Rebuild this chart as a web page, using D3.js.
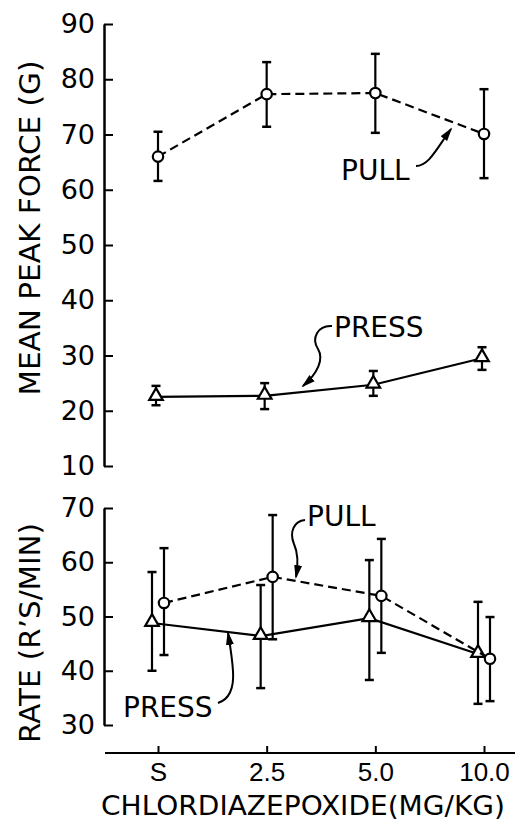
<!DOCTYPE html>
<html lang="en">
<head>
<meta charset="UTF-8">
<title>Chlordiazepoxide force and rate</title>
<script src="https://d3js.org/d3.v7.min.js"></script>
<style>
    body { margin: 0; background: #fff; }
    svg { display: block; }
    .tick text { font-family: "DejaVu Sans", sans-serif; fill: #000; }
    .lab { font-family: "DejaVu Sans", sans-serif; fill: #000; }
</style>
</head>
<body>
<script>
    // doses on the x axis
    const doses = ["S", "2.5", "5.0", "10.0"];

    // top panel: mean peak force (g)
    const forcePull    = [66, 77.3, 77.5, 70.1];
    const forcePullLo  = [61.6, 71.4, 70.3, 62.1];
    const forcePullHi  = [70.5, 83.1, 84.6, 78.2];
    const forcePress   = [22.5, 22.7, 24.7, 29.5];
    const forcePressLo = [21, 20.3, 22.7, 27.4];
    const forcePressHi = [24.5, 25, 27.2, 31.5];

    // bottom panel: rate (R's/min)
    const ratePull    = [52.5, 57.3, 53.8, 42.2];
    const ratePullLo  = [42.9, 45.8, 43.3, 34.4];
    const ratePullHi  = [62.6, 68.7, 64.3, 49.9];
    const ratePress   = [48.8, 46.4, 49.7, 43.1];
    const ratePressLo = [40, 36.8, 38.3, 33.9];
    const ratePressHi = [58.2, 55.8, 60.4, 52.7];

    const forceTicks = [10, 20, 30, 40, 50, 60, 70, 80, 90];
    const rateTicks = [30, 40, 50, 60, 70];

    const width = 515, height = 824;
    const svg = d3.select("body").append("svg")
        .attr("width", width).attr("height", height);

    svg.append("defs").append("marker")
        .attr("id", "arr")
        .attr("markerUnits", "userSpaceOnUse")
        .attr("viewBox", "0 -5 14 10")
        .attr("markerWidth", 14).attr("markerHeight", 10)
        .attr("refX", 12).attr("refY", 0)
        .attr("orient", "auto")
        .append("path").attr("d", "M0,-4L14,0L0,4Z").attr("fill", "#000");

    const axisX = 104;
    const x = d3.scalePoint().domain(doses).range([158, 484]);
    const yTop = d3.scaleLinear().domain([10, 90]).range([466, 24]);
    const yBot = d3.scaleLinear().domain([30, 70]).range([725, 508]);

    function yAxis(scale, ticks) {
        const g = svg.append("g").attr("transform", `translate(${axisX},0)`)
            .call(d3.axisLeft(scale).tickValues(ticks).tickSizeInner(-9).tickSizeOuter(0).tickPadding(9));
        g.select(".domain").attr("stroke", "#000").attr("stroke-width", 2.5);
        g.selectAll(".tick line").attr("stroke", "#000").attr("stroke-width", 2);
        g.selectAll(".tick text").attr("font-size", 27);
    }
    yAxis(yTop, forceTicks);
    yAxis(yBot, rateTicks);

    // x axis
    const gx = svg.append("g").attr("transform", "translate(0,753)")
        .call(d3.axisBottom(x).tickSizeInner(-7).tickSizeOuter(0).tickPadding(10));
    gx.select(".domain").remove();
    gx.append("line").attr("x1", 105).attr("x2", 515).attr("stroke", "#000").attr("stroke-width", 2);
    gx.selectAll(".tick line").attr("stroke", "#000").attr("stroke-width", 2);
    gx.selectAll(".tick text").attr("font-size", 26)
        .style("font-family", "'Liberation Sans', sans-serif");

    function series(scale, vals, lo, hi, dx, dashed, marker) {
        const pts = vals.map((v, i) => ({ x: x(doses[i]) + dx, v, lo: lo[i], hi: hi[i] }));
        const line = d3.line().x(d => d.x).y(d => scale(d.v));
        svg.append("path").datum(pts)
            .attr("d", line)
            .attr("fill", "none").attr("stroke", "#000").attr("stroke-width", 2.2)
            .attr("stroke-dasharray", dashed ? "9,5" : null);
        const eb = svg.append("g").attr("stroke", "#000").attr("stroke-width", 2.2);
        pts.forEach(d => {
            eb.append("line").attr("x1", d.x).attr("x2", d.x).attr("y1", scale(d.lo)).attr("y2", scale(d.hi));
            [d.lo, d.hi].forEach(e => {
                eb.append("line").attr("x1", d.x - 4.5).attr("x2", d.x + 4.5)
                    .attr("y1", scale(e)).attr("y2", scale(e)).attr("stroke-width", 2.5);
            });
        });
        const sym = d3.symbol().type(marker === "circle" ? d3.symbolCircle : d3.symbolTriangle)
            .size(marker === "circle" ? 85 : 80);
        svg.append("g").selectAll("path").data(pts).join("path")
            .attr("transform", d => `translate(${d.x},${scale(d.v) + (marker === "circle" ? 0 : -1)})`)
            .attr("d", sym)
            .attr("fill", "#fff").attr("stroke", "#000").attr("stroke-width", 2.2);
    }

    series(yTop, forcePull, forcePullLo, forcePullHi, 0, true, "circle");
    series(yTop, forcePress, forcePressLo, forcePressHi, -2, false, "triangle");
    series(yBot, ratePress, ratePressLo, ratePressHi, -6, false, "triangle");
    series(yBot, ratePull, ratePullLo, ratePullHi, 6, true, "circle");

    // annotation labels and arrows
    const notes = [
        { t: "PULL", x: 341, y: 180, d: "M416,166C429,166 437,148 451,129" },
        { t: "PRESS", x: 334, y: 337, d: "M332,326C318,325 311,338 318,349C324,359 318,373 303,386" },
        { t: "PULL", x: 307, y: 526, d: "M305,520C294,521 289,532 294,544C299,555 298,566 296,577" },
        { t: "PRESS", x: 123, y: 717, d: "M218,703C230,699 234,686 233,671C232,656 230,645 228,633" }
    ];
    notes.forEach(n => {
        svg.append("text").attr("class", "lab").attr("x", n.x).attr("y", n.y)
            .attr("font-size", 28).text(n.t);
        svg.append("path").attr("d", n.d).attr("fill", "none")
            .attr("stroke", "#000").attr("stroke-width", 2).attr("marker-end", "url(#arr)");
    });

    // axis titles
    svg.append("text").attr("class", "lab")
        .attr("transform", "translate(40,228) rotate(-90)")
        .attr("text-anchor", "middle").attr("font-size", 28)
        .attr("textLength", 335).attr("lengthAdjust", "spacingAndGlyphs")
        .text("MEAN PEAK FORCE (G)");
    svg.append("text").attr("class", "lab")
        .attr("transform", "translate(40,633) rotate(-90)")
        .attr("text-anchor", "middle").attr("font-size", 28)
        .attr("textLength", 220).attr("lengthAdjust", "spacingAndGlyphs")
        .text("RATE (R’S/MIN)");
    svg.append("text").attr("class", "lab")
        .attr("x", 101).attr("y", 815).attr("font-size", 27)
        .attr("textLength", 404).attr("lengthAdjust", "spacingAndGlyphs")
        .text("CHLORDIAZEPOXIDE(MG/KG)");
</script>
</body>
</html>
